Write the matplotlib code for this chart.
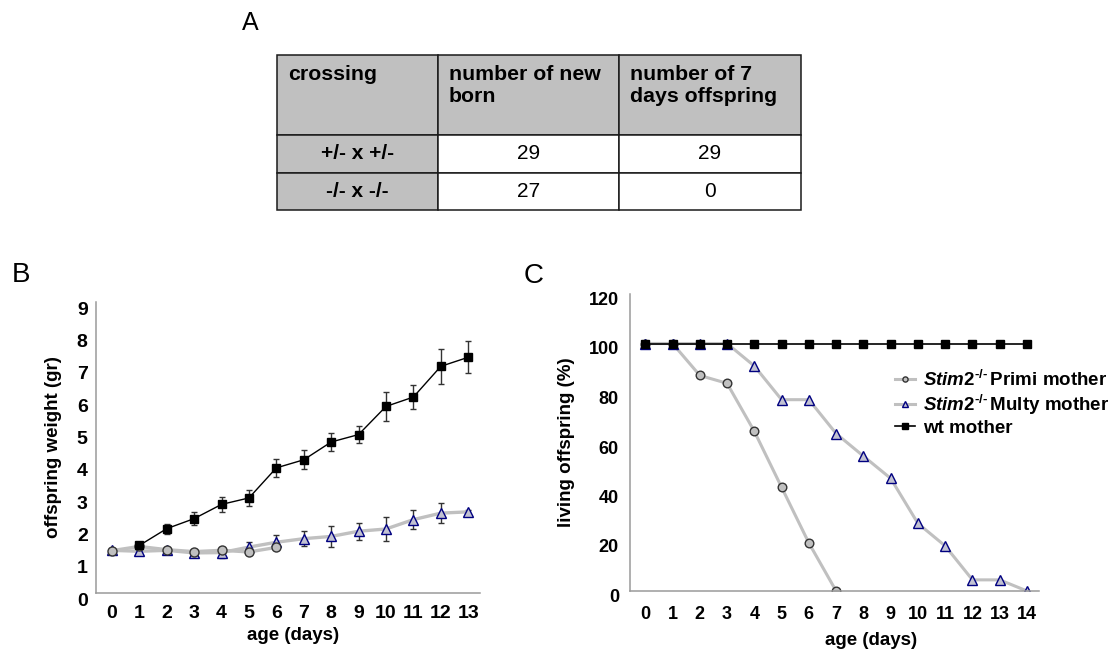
import numpy as np
import matplotlib
matplotlib.use('Agg')
import matplotlib.pyplot as plt
from matplotlib.patches import Rectangle
from matplotlib.transforms import ScaledTranslation

plt.rcParams['font.family'] = ['Liberation Sans', 'DejaVu Sans']
plt.rcParams['mathtext.fontset'] = 'custom'
plt.rcParams['mathtext.it'] = 'Liberation Sans:italic:bold'
plt.rcParams['mathtext.rm'] = 'Liberation Sans:bold'
plt.rcParams['mathtext.bf'] = 'Liberation Sans:bold'

# ---- A: tabella incroci
table_header = ['crossing', 'number of new\nborn', 'number of 7\ndays offspring']
crossings = ['+/- x +/-', '-/- x -/-']
new_born = [29, 27]
offspring_7d = [29, 0]

# ---- B: peso dei piccoli (gr)
days_b = [0, 1, 2, 3, 4, 5, 6, 7, 8, 9, 10, 11, 12, 13]
wt_days_b = [1, 2, 3, 4, 5, 6, 7, 8, 9, 10, 11, 12, 13]
wt_weight = [1.47, 1.99, 2.30, 2.74, 2.94, 3.87, 4.12, 4.67, 4.90, 5.77, 6.06, 7.01, 7.29]
wt_err = [0.05, 0.15, 0.20, 0.23, 0.24, 0.27, 0.30, 0.28, 0.27, 0.44, 0.36, 0.54, 0.50]
multy_weight = [1.32, 1.29, 1.32, 1.24, 1.25, 1.42, 1.57, 1.68, 1.75, 1.91, 1.98, 2.27, 2.47, 2.51]
multy_err = [0.0, 0.05, 0.08, 0.10, 0.18, 0.15, 0.22, 0.23, 0.33, 0.27, 0.36, 0.30, 0.30, 0.05]
primi_days_b = [0, 1, 2, 3, 4, 5, 6]
primi_weight = [1.31, 1.44, 1.34, 1.28, 1.32, 1.27, 1.41]

# ---- C: sopravvivenza (%)
days_c = [0, 1, 2, 3, 4, 5, 6, 7, 8, 9, 10, 11, 12, 13, 14]
primi_days_c = [0, 1, 2, 3, 4, 5, 6, 7]
primi_surv = [100, 100, 87.1, 83.9, 64.5, 41.9, 19.4, 0]
multy_surv = [100, 100, 100, 100, 90.9, 77.3, 77.3, 63.6, 54.5, 45.5, 27.3, 18.2, 4.5, 4.5, 0]
wt_surv = [100, 100, 100, 100, 100, 100, 100, 100, 100, 100, 100, 100, 100, 100, 100]

W, H = 1110, 655
fig = plt.figure(figsize=(W / 100, H / 100), dpi=100)

GREY = '#c0c0c0'
NAVY = '#000080'
TRI_FILL = '#c2c2d2'
SPINE = '#9a9a9a'


def px_axes(l, t, r, b):
    # rettangolo in pixel -> coordinate figura
    return fig.add_axes([l / W, 1 - b / H, (r - l) / W, (b - t) / H])


def style_axes(ax, tick_size, ylab_shift):
    for s in ['top', 'right']:
        ax.spines[s].set_visible(False)
    for s in ['left', 'bottom']:
        ax.spines[s].set_color(SPINE)
        ax.spines[s].set_linewidth(1.1)
    ax.tick_params(length=0)
    for lab in ax.get_xticklabels() + ax.get_yticklabels():
        lab.set_fontweight('bold')
        lab.set_fontsize(tick_size)
    # le etichette y sono un po' piu' in basso rispetto alla tacca
    off = ScaledTranslation(0, -ylab_shift / 100, fig.dpi_scale_trans)
    for lab in ax.get_yticklabels():
        lab.set_transform(lab.get_transform() + off)


# ---------------- A
ax_t = fig.add_axes([0, 0, 1, 1])
ax_t.set_xlim(0, W)
ax_t.set_ylim(H, 0)
ax_t.axis('off')
col_w = [161, 181, 182]
row_h = [80, 37.5, 37.5]
x0, y0 = 277, 55
xs = np.concatenate([[x0], x0 + np.cumsum(col_w)])
ys = np.concatenate([[y0], y0 + np.cumsum(row_h)])
for r in range(3):
    for c in range(3):
        fc = GREY if (r == 0 or c == 0) else 'white'
        ax_t.add_patch(Rectangle((xs[c], ys[r]), col_w[c], row_h[r], facecolor=fc,
                                 edgecolor='#1a1a1a', linewidth=1.1))
for c, txt in enumerate(table_header):
    ax_t.text(xs[c] + 11, ys[0] + 10, txt, ha='left', va='top', fontsize=15.3,
              fontweight='bold', linespacing=1.2)
for r in range(2):
    yc = (ys[r + 1] + ys[r + 2]) / 2
    ax_t.text((xs[0] + xs[1]) / 2, yc, crossings[r], ha='center', va='center',
              fontsize=15, fontweight='bold')
    ax_t.text((xs[1] + xs[2]) / 2, yc, str(new_born[r]), ha='center', va='center', fontsize=15)
    ax_t.text((xs[2] + xs[3]) / 2, yc, str(offspring_7d[r]), ha='center', va='center', fontsize=15)

fig.text(250 / W, 1 - 23 / H, 'A', ha='center', va='center', fontsize=18)
fig.text(21 / W, 1 - 275 / H, 'B', ha='center', va='center', fontsize=20)
fig.text(534 / W, 1 - 276 / H, 'C', ha='center', va='center', fontsize=20)

# ---------------- B
axb = px_axes(96, 302, 480, 593)
axb.errorbar(days_b, multy_weight, yerr=multy_err, color=GREY, lw=2.4, marker='^', ms=7,
             mfc=TRI_FILL, mec=NAVY, mew=1, ecolor='#333333', elinewidth=1, capsize=2.5,
             zorder=2)
axb.plot(primi_days_b, primi_weight, color=GREY, lw=2.4, marker='o', ms=6.5,
         mfc=GREY, mec='#333333', mew=1, zorder=3)
axb.errorbar(wt_days_b, wt_weight, yerr=wt_err, color='black', lw=1, marker='s', ms=6.2,
             ecolor='#333333', elinewidth=1, capsize=2.5, zorder=4)
axb.set_xlim(-0.58, 13.43)
axb.set_ylim(0, 9)
axb.set_xticks(days_b)
axb.set_yticks(range(0, 10))
axb.tick_params(axis='x', pad=9)
axb.tick_params(axis='y', pad=6)
style_axes(axb, 14, 6)
axb.set_xlabel('age (days)', fontsize=13.5, fontweight='bold')
axb.set_ylabel('offspring weight (gr)', fontsize=13.5, fontweight='bold')
axb.xaxis.set_label_coords(0.514, -0.117)
axb.yaxis.set_label_coords(-0.089, 0.5)

# ---------------- C
axc = px_axes(630, 294, 1039, 591)
axc.plot(primi_days_c, primi_surv, color=GREY, lw=2.2, marker='o', ms=6.2,
         mfc=GREY, mec='#333333', mew=1,
         label=r'$\it{Stim2}^{\text{-/-}}\,$Primi mother')
axc.plot(days_c, multy_surv, color=GREY, lw=2.2, marker='^', ms=7,
         mfc=TRI_FILL, mec=NAVY, mew=1,
         label=r'$\it{Stim2}^{\text{-/-}}\,$Multy mother')
axc.plot(days_c, wt_surv, color='black', lw=1.2, marker='s', ms=6.2,
         label='wt mother')
axc.set_xlim(-0.56, 14.44)
axc.set_ylim(0, 120)
axc.set_xticks(days_c)
axc.set_yticks(range(0, 121, 20))
axc.tick_params(axis='x', pad=11)
axc.tick_params(axis='y', pad=8)
style_axes(axc, 13, 4.5)
axc.set_xlabel('age (days)', fontsize=13.5, fontweight='bold')
axc.set_ylabel('living offspring (%)', fontsize=13.5, fontweight='bold')
axc.xaxis.set_label_coords(0.589, -0.139)
axc.yaxis.set_label_coords(-0.134, 0.5)
leg = axc.legend(loc='upper left', bbox_to_anchor=(0.647, 0.745), frameon=False,
                 prop={'weight': 'bold', 'size': 13.5}, markerscale=0.6,
                 handlelength=1.07, handletextpad=0.45, labelspacing=0.15,
                 borderpad=0, borderaxespad=0)

fig.savefig('out.png', dpi=100)
